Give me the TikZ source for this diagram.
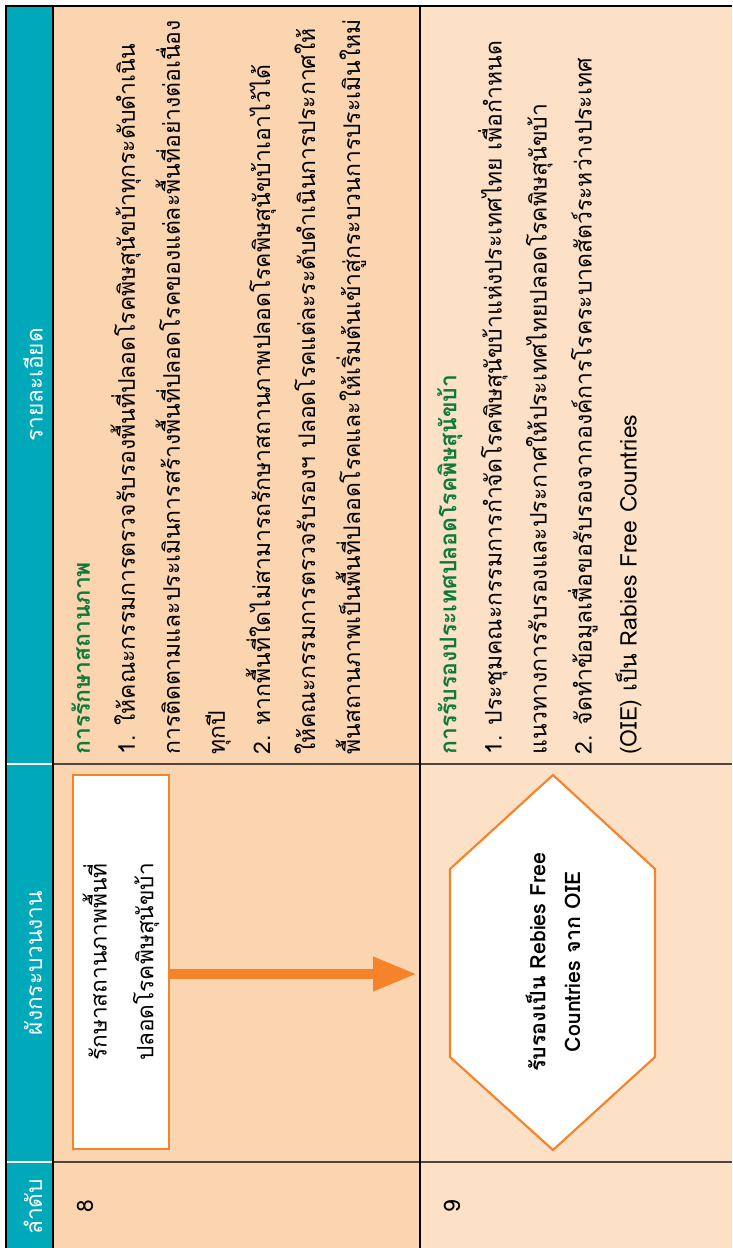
\documentclass[tikz,border=0pt]{standalone}
\usepackage{fontspec}
\setmainfont[Script=Thai]{Loma}
\usetikzlibrary{arrows.meta,positioning}
\definecolor{headteal}{HTML}{00A9B9}
\definecolor{rowpeach}{HTML}{FBD4B0}
\definecolor{rowcream}{HTML}{FCE1C6}
\definecolor{floworange}{HTML}{F5832A}
\definecolor{topicgreen}{HTML}{0E7A3A}
\definecolor{gridgray}{HTML}{4D4540}
\tikzset{
  headtext/.style={rotate=90,text=white,font=\fontsize{17}{20}\selectfont},
  ordertext/.style={rotate=90,anchor=base west,inner sep=0pt,font=\fontsize{17}{20}\selectfont},
  detail/.style={rotate=90,anchor=north west,inner sep=0pt,align=left,
    font=\fontsize{17.2}{33.8}\selectfont},
  topic/.style={text=topicgreen},
  stepbox/.style={rotate=90,draw=floworange,fill=white,line width=1.6pt,
    minimum width=280.5pt,minimum height=72pt,align=center,
    font=\fontsize{17}{35}\selectfont},
  hexline/.style={draw=floworange,fill=white,line width=1.6pt,line join=miter},
  hextext/.style={rotate=90,align=center,font=\bfseries\fontsize{16}{26}\selectfont},
  flowarrow/.style={draw=floworange,line width=7.5pt,-{Triangle[length=33pt,width=24pt]}},
  gridline/.style={draw=gridgray,line width=1.5pt},
  frameline/.style={draw=black,line width=1.2pt},
  headsep/.style={draw=white,line width=2pt}
}
\begin{document}
\begin{tikzpicture}[x=0.75pt,y=-0.75pt]
\useasboundingbox (0,0) rectangle (732,1248);
% backgrounds
\fill[headteal] (6,6) rectangle (53,1248);
\fill[rowpeach] (53,6) rectangle (420,1248);
\fill[rowcream] (420,6) rectangle (732,1248);
% grid
\draw[gridline] (53,764) -- (732,764);
\draw[gridline] (53,1162) -- (732,1162);
\draw[headsep] (6,764) -- (53,764);
\draw[headsep] (6,1162) -- (53,1162);
\draw[frameline] (6,1248) -- (6,6) -- (732,6);
\draw[frameline] (53,6) -- (53,1248);
\draw[frameline] (420,6) -- (420,1248);
% header
\node[headtext] (hnum) at (33,1207) {ลำดับ};
\node[headtext] (hflow) at (33,963) {ผังกระบวนงาน};
\node[headtext] (hdetail) at (33,385) {รายละเอียด};
% row 8
\node[ordertext] (num8) at (93,1213) {8};
\node[stepbox] (keepbox) at (121,962) {รักษาสถานภาพพื้นที่\\ปลอดโรคพิษสุนัขบ้า};
\node[detail] (keepdetail) at (71,755) {\textcolor{topicgreen}{\bfseries การรักษาสถานภาพ}\\
  1. ให้คณะกรรมการตรวจรับรองพื้นที่ปลอดโรคพิษสุนัขบ้าทุกระดับดำเนิน\\
  การติดตามและประเมินการสร้างพื้นที่ปลอดโรคของแต่ละพื้นที่อย่างต่อเนื่อง\\
  ทุกปี\\
  2. หากพื้นที่ใดไม่สามารถรักษาสถานภาพปลอดโรคพิษสุนัขบ้าเอาไว้ได้\\
  ให้คณะกรรมการตรวจรับรองฯ ปลอดโรคแต่ละระดับดำเนินการประกาศให้\\
  พื้นสถานภาพเป็นพื้นที่ปลอดโรคและให้เริ่มต้นเข้าสู่กระบวนการประเมินใหม่};
% row 9
\node[ordertext] (num9) at (460,1213) {9};
\draw[hexline] (553,775) -- (655,869) -- (655,1057) -- (553,1150) -- (450,1057) -- (450,869) -- cycle;
\node[hextext] (certhex) at (553,962) {รับรองเป็น Rebies Free\\Countries จาก OIE};
\node[detail] (certdetail) at (437,755) {\textcolor{topicgreen}{\bfseries การรับรองประเทศปลอดโรคพิษสุนัขบ้า}\\
  1. ประชุมคณะกรรมการกำจัดโรคพิษสุนัขบ้าแห่งประเทศไทย เพื่อกำหนด\\
  แนวทางการรับรองและประกาศให้ประเทศไทยปลอดโรคพิษสุนัขบ้า\\
  2. จัดทำข้อมูลเพื่อขอรับรองจากองค์การโรคระบาดสัตว์ระหว่างประเทศ\\
  (OIE) เป็น Rabies Free Countries};
% connector
\coordinate (arrowtip) at (417,974);
\draw[flowarrow] (keepbox.south |- arrowtip) -- (arrowtip);
\end{tikzpicture}
\end{document}
